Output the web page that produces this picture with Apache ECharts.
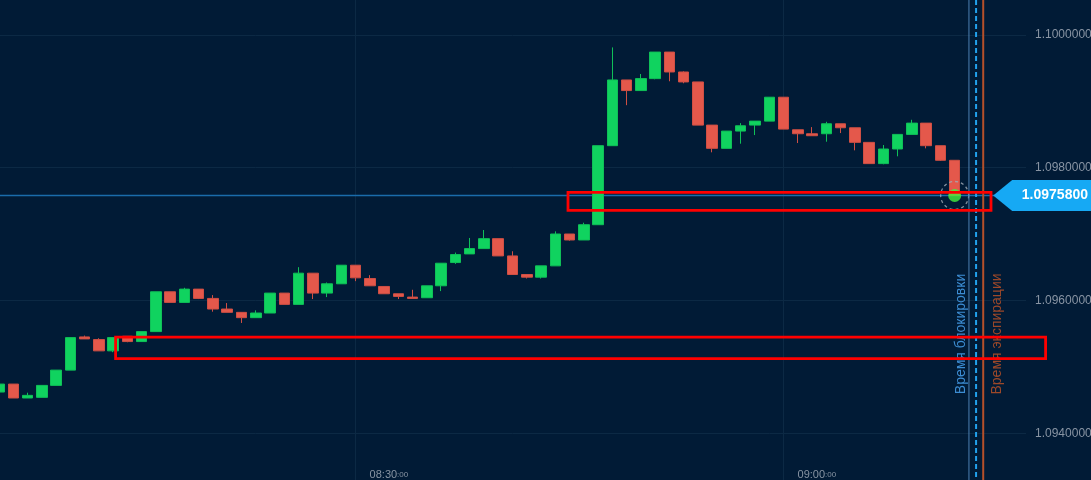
<!DOCTYPE html>
<html><head><meta charset="utf-8">
<script src="https://cdn.jsdelivr.net/npm/echarts@6/dist/echarts.min.js"></script>
<style>html,body{margin:0;padding:0;background:#011b36;}#c{width:1091px;height:480px;}</style>
</head><body><div id="c"></div>
<script>
const timeLabels = ['08:05','08:06','08:07','08:08','08:09','08:10','08:11','08:12','08:13','08:14',
  '08:15','08:16','08:17','08:18','08:19','08:20','08:21','08:22','08:23','08:24',
  '08:25','08:26','08:27','08:28','08:29','08:30','08:31','08:32','08:33','08:34',
  '08:35','08:36','08:37','08:38','08:39','08:40','08:41','08:42','08:43','08:44',
  '08:45','08:46','08:47','08:48','08:49','08:50','08:51','08:52','08:53','08:54',
  '08:55','08:56','08:57','08:58','08:59','09:00','09:01','09:02','09:03','09:04',
  '09:05','09:06','09:07','09:08','09:09','09:10','09:11','09:12','09:13','09:14',
  '09:15','09:16','09:17'];
// [open, close, low, high]
const candleData = [
  [1.09462,1.09474,1.09462,1.09474],[1.09474,1.09453,1.09453,1.09474],[1.09453,1.09457,1.09453,1.09461],
  [1.09454,1.09472,1.09454,1.09472],[1.09472,1.09495,1.09472,1.09495],[1.09495,1.09544,1.09495,1.09544],
  [1.09545,1.09542,1.09542,1.09547],[1.09541,1.09524,1.09524,1.09543],[1.09524,1.09544,1.09522,1.09544],
  [1.09546,1.09538,1.09537,1.09546],[1.09538,1.09553,1.09538,1.09553],[1.09553,1.09613,1.09553,1.09613],
  [1.09613,1.09597,1.09597,1.09613],[1.09597,1.09617,1.09597,1.09619],[1.09617,1.09603,1.09602,1.09617],
  [1.09603,1.09587,1.09583,1.09608],[1.09587,1.09582,1.09582,1.09596],[1.09582,1.09574,1.09566,1.09582],
  [1.09574,1.09581,1.09574,1.09585],[1.09581,1.09611,1.09581,1.09611],[1.09611,1.09594,1.09594,1.09611],
  [1.09594,1.09641,1.09594,1.09650],[1.09641,1.09611,1.09602,1.09641],[1.09611,1.09625,1.09605,1.09627],
  [1.09625,1.09653,1.09625,1.09653],[1.09653,1.09634,1.09629,1.09653],[1.09633,1.09622,1.09622,1.09638],
  [1.09621,1.09610,1.09610,1.09621],[1.09610,1.09606,1.09602,1.09610],[1.09605,1.09603,1.09603,1.09616],
  [1.09604,1.09622,1.09604,1.09622],[1.09622,1.09656,1.09614,1.09656],[1.09657,1.09669,1.09655,1.09672],
  [1.09670,1.09678,1.09670,1.09694],[1.09678,1.09693,1.09678,1.09706],[1.09693,1.09667,1.09667,1.09693],
  [1.09667,1.09639,1.09639,1.09674],[1.09639,1.09635,1.09633,1.09639],[1.09635,1.09652,1.09633,1.09652],
  [1.09652,1.09700,1.09652,1.09704],[1.09700,1.09691,1.09690,1.09700],[1.09691,1.09714,1.09691,1.09717],
  [1.09714,1.09833,1.09714,1.09833],[1.09833,1.09932,1.09833,1.09981],[1.09932,1.09916,1.09894,1.09932],
  [1.09916,1.09934,1.09916,1.09941],[1.09934,1.09974,1.09933,1.09974],[1.09974,1.09944,1.09930,1.09974],
  [1.09944,1.09929,1.09927,1.09945],[1.09929,1.09864,1.09864,1.09929],[1.09864,1.09829,1.09823,1.09864],
  [1.09829,1.09855,1.09829,1.09855],[1.09855,1.09863,1.09836,1.09867],[1.09864,1.09870,1.09849,1.09870],
  [1.09870,1.09906,1.09870,1.09906],[1.09906,1.09858,1.09858,1.09906],[1.09857,1.09851,1.09837,1.09857],
  [1.09851,1.09848,1.09848,1.09861],[1.09851,1.09866,1.09839,1.09869],[1.09866,1.09860,1.09852,1.09866],
  [1.09860,1.09838,1.09826,1.09860],[1.09838,1.09806,1.09806,1.09838],[1.09806,1.09828,1.09805,1.09834],
  [1.09828,1.09850,1.09817,1.09850],[1.09850,1.09867,1.09850,1.09872],[1.09867,1.09833,1.09829,1.09867],
  [1.09833,1.09811,1.09810,1.09833],[1.09811,1.09758,1.09758,1.09811]
];
const axisLabelTimes = ['08:30','09:00'];
const yMin = 1.092, yMax = 1.102, yStep = 0.002;
const currentPrice = 1.09758;
const lastTime = '09:12';
const lockTime = '09:13';
const expiryTime = '09:14';
const lockText = 'Время блокировки';
const expiryText = 'Время экспирации';

const FONT = '"Liberation Sans", Arial, sans-serif';
const chart = echarts.init(document.getElementById('c'));
const isLabelTime = (i, v) => axisLabelTimes.indexOf(v) >= 0;
const option = {
  backgroundColor: '#011b36',
  animation: false,
  textStyle: {fontFamily: FONT},
  grid: {left: -1, right: 65, top: -98, bottom: -86, containLabel: false, outerBoundsMode: 'none'},
  xAxis: {
    type: 'category', data: timeLabels, boundaryGap: false, offset: -99,
    axisLine: {show: false}, axisTick: {show: false},
    axisLabel: {
      interval: isLabelTime, align: 'left', padding: [0, 0, 0, 14], margin: 2,
      formatter: v => '{a|' + v + '}{b|:00}',
      rich: {
        a: {fontSize: 11, color: '#8894a3', fontFamily: FONT},
        b: {fontSize: 8, color: '#8894a3', fontFamily: FONT}
      }
    },
    splitLine: {show: true, interval: isLabelTime, lineStyle: {color: '#0c2944', width: 1}}
  },
  yAxis: {
    type: 'value', position: 'right', min: yMin, max: yMax, interval: yStep,
    axisLine: {show: false}, axisTick: {show: false},
    axisLabel: {formatter: v => v.toFixed(7), color: '#8894a3', fontSize: 12, margin: 9, fontFamily: FONT},
    splitLine: {show: true, lineStyle: {color: '#0c2944', width: 1}}
  },
  series: [
    {
      type: 'candlestick', data: candleData, barWidth: 11,
      itemStyle: {color: '#10d35f', color0: '#e4584b', borderColor: '#0fc058', borderColor0: '#cf4f44', borderWidth: 1}
    },
    {
      type: 'scatter', data: [[lastTime, currentPrice]], symbolSize: 28, z: 5, silent: true,
      itemStyle: {color: 'rgba(0,0,0,0)', borderColor: '#a3adb8', borderWidth: 1.3, borderType: [3, 3]},
      markLine: {
        silent: true, symbol: 'none', label: {show: false}, z: 1, precision: 7,
        lineStyle: {color: '#1a6cab', width: 1.3, type: 'solid'},
        data: [{yAxis: currentPrice}]
      }
    },
    {
      type: 'scatter', data: [[lastTime, currentPrice]], symbolSize: 13, z: 6, silent: true,
      itemStyle: {color: '#46f03e'}
    }
  ]
};
chart.setOption(option);

const pL = chart.convertToPixel({gridIndex: 0}, [lockTime, currentPrice]);
const pE = chart.convertToPixel({gridIndex: 0}, [expiryTime, currentPrice]);
const xL = pL[0], xE = pE[0], xM = (xL + xE) / 2, yP = pL[1];
const textY = 334;
chart.setOption({
  graphic: [
    {type: 'line', z: 50, silent: true, shape: {x1: xL, y1: 0, x2: xL, y2: 480}, style: {stroke: '#4d80b3', lineWidth: 1}},
    {type: 'line', z: 50, silent: true, shape: {x1: xM, y1: 0, x2: xM, y2: 480}, style: {stroke: '#22a2ee', lineWidth: 2, lineDash: [5, 3]}},
    {type: 'line', z: 50, silent: true, shape: {x1: xE, y1: 0, x2: xE, y2: 480}, style: {stroke: '#b5502a', lineWidth: 2}},
    {type: 'text', z: 50, silent: true, x: xL - 8, y: textY, rotation: Math.PI / 2,
      style: {text: lockText, fill: '#3c8cd2', fontSize: 14, fontFamily: FONT, align: 'center', verticalAlign: 'middle', textAlign: 'center', textVerticalAlign: 'middle'}},
    {type: 'text', z: 50, silent: true, x: xE + 14, y: textY, rotation: Math.PI / 2,
      style: {text: expiryText, fill: '#9c4829', fontSize: 14, fontFamily: FONT, align: 'center', verticalAlign: 'middle', textAlign: 'center', textVerticalAlign: 'middle'}},
    {type: 'polygon', z: 60, silent: true,
      shape: {points: [[xE + 10, yP], [xE + 29, yP - 15.5], [1091, yP - 15.5], [1091, yP + 15.5], [xE + 29, yP + 15.5]]},
      style: {fill: '#16a9f4'}},
    {type: 'text', z: 61, silent: true, x: 1088, y: yP,
      style: {text: currentPrice.toFixed(7), fill: '#ffffff', fontSize: 14, fontWeight: 'bold', fontFamily: FONT, align: 'right', verticalAlign: 'middle', textAlign: 'right', textVerticalAlign: 'middle'}},
    {type: 'rect', z: 100, silent: true, shape: {x: 568, y: 192.4, width: 423, height: 18}, style: {fill: null, stroke: '#ff0000', lineWidth: 2.8}},
    {type: 'rect', z: 100, silent: true, shape: {x: 115.6, y: 337.2, width: 930, height: 21.5}, style: {fill: null, stroke: '#ff0000', lineWidth: 2.8}}
  ]
});
</script>
</body></html>
